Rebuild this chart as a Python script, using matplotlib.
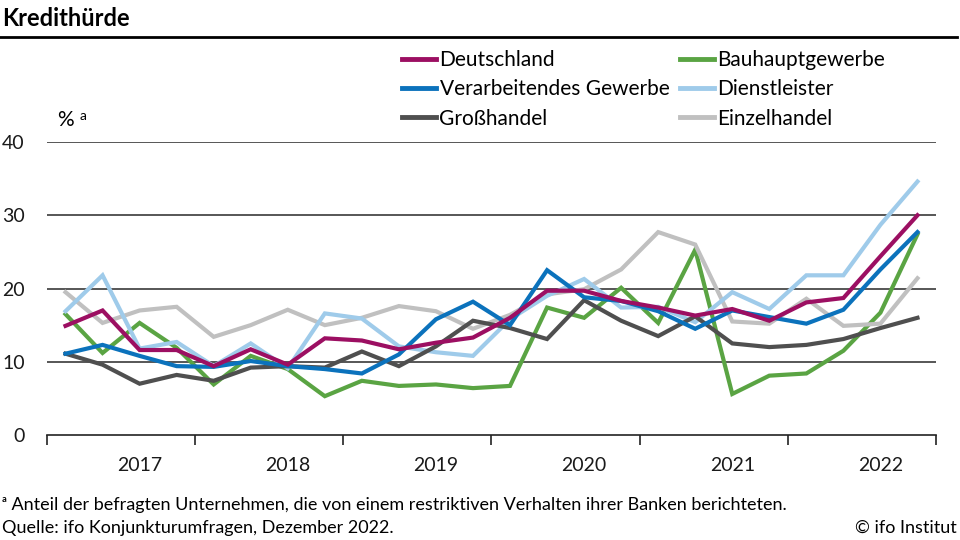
import numpy as np
import matplotlib.pyplot as plt
from matplotlib.lines import Line2D

plt.rcParams['font.family'] = ['Lato', 'DejaVu Sans']

# quarterly values, 24 points
years = ['2017', '2018', '2019', '2020', '2021', '2022']
deutschland = [14.9, 17.0, 11.6, 11.6, 9.4, 11.7, 9.6, 13.2, 12.9, 11.7, 12.6, 13.3,
               16.0, 19.7, 19.7, 18.3, 17.4, 16.3, 17.2, 15.6, 18.1, 18.7, 24.4, 30.0]
bau = [16.5, 11.2, 15.3, 11.9, 6.9, 10.8, 9.0, 5.3, 7.4, 6.7, 6.9, 6.4,
       6.7, 17.4, 16.0, 20.1, 15.3, 25.3, 5.6, 8.1, 8.4, 11.5, 16.7, 27.4]
verarb = [11.1, 12.3, 10.8, 9.4, 9.3, 10.1, 9.4, 9.0, 8.4, 11.0, 15.8, 18.2,
          15.0, 22.5, 18.8, 18.3, 16.9, 14.5, 17.0, 16.1, 15.2, 17.1, 22.6, 27.7]
dienst = [16.9, 21.8, 11.8, 12.7, 9.4, 12.5, 9.1, 16.6, 15.9, 12.1, 11.3, 10.8,
          15.8, 19.0, 21.3, 17.4, 17.5, 15.4, 19.5, 17.2, 21.8, 21.8, 28.7, 34.6]
gross = [11.1, 9.6, 7.0, 8.2, 7.4, 9.2, 9.4, 9.2, 11.4, 9.4, 12.1, 15.6,
         14.6, 13.1, 18.4, 15.6, 13.5, 16.2, 12.5, 12.0, 12.3, 13.1, 14.6, 16.0]
einzel = [19.5, 15.3, 17.0, 17.5, 13.4, 15.0, 17.1, 15.0, 16.0, 17.6, 16.9, 14.5,
          16.4, 19.2, 19.9, 22.6, 27.7, 26.0, 15.5, 15.2, 18.6, 14.9, 15.2, 21.4]

series = {
    'Deutschland': (deutschland, '#9c0f62'),
    'Bauhauptgewerbe': (bau, '#5aa443'),
    'Verarbeitendes Gewerbe': (verarb, '#0b72bc'),
    'Dienstleister': (dienst, '#9fcbea'),
    'Großhandel': (gross, '#4f4f4f'),
    'Einzelhandel': (einzel, '#c0c0c0'),
}

x = np.arange(len(deutschland))

fig = plt.figure(figsize=(9.6, 5.4), dpi=100)
ax = fig.add_axes([47/960, 1-435/540, (936-47)/960, (435-142)/540])

for y in [10, 20, 30, 40]:
    ax.axhline(y, color='#3a3a3a', lw=1.2, zorder=1)

draw_order = ['Bauhauptgewerbe', 'Einzelhandel', 'Dienstleister', 'Großhandel',
              'Verarbeitendes Gewerbe', 'Deutschland']
for z, name in enumerate(draw_order):
    vals, col = series[name]
    ax.plot(x, vals, color=col, lw=3, solid_joinstyle='miter', zorder=3 + z)

ax.set_xlim(-0.5, len(x) - 0.5)
ax.set_ylim(0, 40)
for s in ['top', 'right', 'left']:
    ax.spines[s].set_visible(False)
ax.spines['bottom'].set_color('#222222')
ax.spines['bottom'].set_linewidth(1.2)
ax.spines['bottom'].set_zorder(10)

ax.set_yticks([0, 10, 20, 30, 40])
ax.tick_params(axis='y', length=0, pad=16, labelsize=14)
ax.set_xticks(np.arange(-0.5, len(x), 4))
ax.set_xticklabels([])
ax.tick_params(axis='x', direction='out', length=7, width=1.2, color='#222222')
ax.set_xticks(np.arange(2, len(x), 4), minor=True)
ax.set_xticklabels(years, minor=True)
ax.tick_params(axis='x', which='minor', length=0, pad=16, labelsize=14)
for lab in ax.get_yticklabels() + ax.get_xticklabels(minor=True):
    lab.set_color('#1a1a1a')

# title and rule
fig.text(2/960, 1-19/540, 'Kredithürde', fontsize=17, fontweight='bold', va='center', ha='left')
fig.add_artist(Line2D([0, 957/960], [1-37/540, 1-37/540], color='black', lw=2))

fig.text(57/960, 1-120/540, '%', fontsize=15, va='center')
fig.text(80/960, 1-116/540, 'a', fontsize=10, va='center')

# legend, filled row by row
leg_order = ['Deutschland', 'Verarbeitendes Gewerbe', 'Großhandel',
             'Bauhauptgewerbe', 'Dienstleister', 'Einzelhandel']
handles = [Line2D([], [], color=series[n][1], lw=3.5) for n in leg_order]
fig.legend(handles, leg_order, ncol=2, loc='upper left', bbox_to_anchor=(402/960, 1-50/540),
           frameon=False, fontsize=15, handlelength=1.65, handletextpad=0.15,
           columnspacing=0.5, labelspacing=0.45, borderaxespad=0, borderpad=0)

fig.text(2/960, 1-505/540, 'ᵃ Anteil der befragten Unternehmen, die von einem restriktiven Verhalten ihrer Banken berichteten.',
         fontsize=13, va='center')
fig.text(2/960, 1-528/540, 'Quelle: ifo Konjunkturumfragen, Dezember 2022.', fontsize=13, va='center')
fig.text(957/960, 1-528/540, '© ifo Institut', fontsize=13, va='center', ha='right')

fig.savefig('out.png', dpi=100)
